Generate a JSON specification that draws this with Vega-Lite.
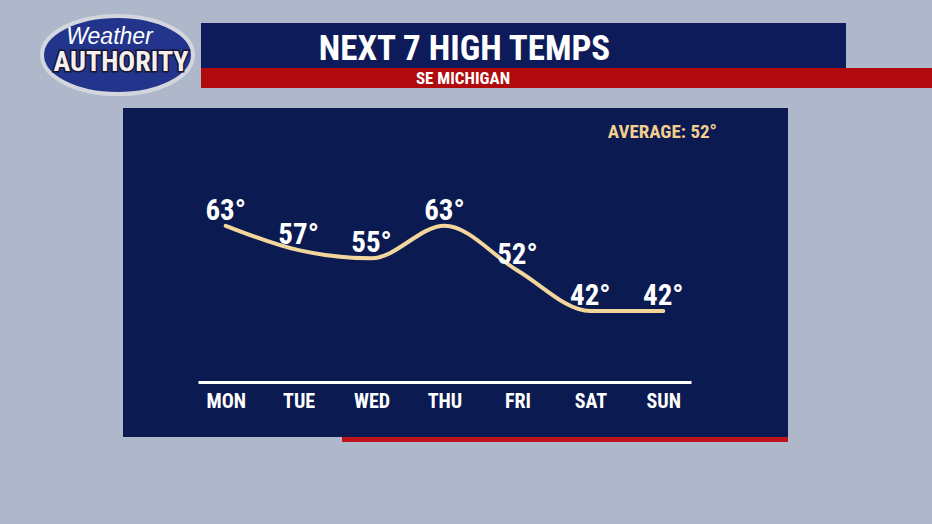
{
  "$schema": "https://vega.github.io/schema/vega-lite/v6.json",
  "background": "#aeb8ca",
  "padding": {"left": 34, "top": 7, "right": 0, "bottom": 82},
  "config": {
    "view": {"stroke": null},
    "font": "Roboto Condensed, Liberation Sans Narrow, DejaVu Sans Condensed, sans-serif"
  },
  "spacing": 5,
  "vconcat": [
    {
      "spacing": -7,
      "hconcat": [
        {
          "width": 155,
          "height": 78,
          "data": {"values": [{}]},
          "layer": [
            {
              "mark": {"type": "point", "shape": "M-1,0A1,0.517,0,1,1,1,0A1,0.517,0,1,1,-1,0Z", "size": 22801, "filled": true, "fill": "#22348c", "stroke": "#d4d6de", "strokeWidth": 4, "opacity": 1},
              "encoding": {}
            },
            {
              "mark": {"type": "text", "text": "Weather", "font": "Liberation Sans, Arial, sans-serif", "fontStyle": "italic", "fontSize": 23, "color": "white", "dx": -8, "dy": -11, "baseline": "alphabetic"},
              "encoding": {}
            },
            {
              "mark": {"type": "text", "text": "AUTHORITY", "fontWeight": "bold", "fontSize": 28, "fill": "#1a1430", "stroke": "#1a1430", "strokeWidth": 3, "dx": 3.5, "dy": 16, "baseline": "alphabetic"},
              "encoding": {}
            },
            {
              "mark": {"type": "text", "text": "AUTHORITY", "fontWeight": "bold", "fontSize": 28, "fill": "#f4f0f0", "dx": 3.5, "dy": 16, "baseline": "alphabetic"},
              "encoding": {}
            }
          ]
        },
        {
          "spacing": 0,
          "vconcat": [
            {
              "width": 10,
              "height": 7,
              "data": {"values": [{}]},
              "mark": {"type": "text", "text": "", "fontSize": 0},
              "encoding": {}
            },
            {
              "width": 645,
              "height": 45,
              "data": {"values": [{}]},
              "view": {"fill": "#0e1b5a"},
              "mark": {"type": "text", "text": "NEXT 7 HIGH TEMPS", "fontSize": 35, "fontWeight": "bold", "color": "white", "dx": -59, "dy": 14.8, "baseline": "alphabetic"},
              "encoding": {}
            },
            {
              "width": 736,
              "height": 20,
              "data": {"values": [{}]},
              "view": {"fill": "#b00a0e"},
              "mark": {"type": "text", "text": "SE MICHIGAN", "fontSize": 17, "fontWeight": "bold", "color": "white", "dx": -106, "dy": 6.3, "baseline": "alphabetic"},
              "encoding": {}
            }
          ]
        }
      ]
    },
    {
      "spacing": 0,
      "vconcat": [
        {
          "spacing": 0,
          "hconcat": [
            {
              "width": 83,
              "height": 10,
              "data": {"values": [{}]},
              "mark": {"type": "text", "text": "", "fontSize": 0},
              "encoding": {}
            },
            {
              "width": 665,
              "height": 329,
              "view": {"fill": "#0b1a51"},
              "data": {"values": [
                {"day": "MON", "temp": 63, "label": "63°"},
                {"day": "TUE", "temp": 57, "label": "57°"},
                {"day": "WED", "temp": 55, "label": "55°"},
                {"day": "THU", "temp": 63, "label": "63°"},
                {"day": "FRI", "temp": 52, "label": "52°"},
                {"day": "SAT", "temp": 42, "label": "42°"},
                {"day": "SUN", "temp": 42, "label": "42°"}
              ]},
              "title": {"text": "AVERAGE: 52°", "anchor": "end", "frame": "group", "orient": "top", "offset": -49, "dx": -71, "color": "#f2cf8e", "fontSize": 19, "fontWeight": "bold", "baseline": "alphabetic"},
              "encoding": {
                "x": {
                  "field": "day", "type": "ordinal", "sort": null,
                  "scale": {"type": "point", "range": [75, 568], "padding": 0.38},
                  "axis": {"title": null, "domainColor": "white", "domainWidth": 3, "ticks": false, "tickSize": 0, "labelColor": "white", "labelFontSize": 20, "labelFontWeight": "bold", "labelPadding": 9, "offset": -55, "grid": false, "labelAngle": 0}
                },
                "y": {
                  "field": "temp", "type": "quantitative",
                  "scale": {"domain": [11, 92], "nice": false, "zero": false},
                  "axis": null
                }
              },
              "layer": [
                {"mark": {"type": "line", "interpolate": "monotone", "color": "#f3d69c", "strokeWidth": 4, "strokeCap": "round"}},
                {"mark": {"type": "text", "color": "white", "fontSize": 29, "fontWeight": "bold", "dy": -6, "baseline": "alphabetic"}, "encoding": {"text": {"field": "label"}}}
              ]
            }
          ]
        },
        {
          "spacing": 0,
          "hconcat": [
            {
              "width": 302,
              "height": 5,
              "data": {"values": [{}]},
              "mark": {"type": "text", "text": "", "fontSize": 0},
              "encoding": {}
            },
            {
              "width": 446,
              "height": 5,
              "data": {"values": [{}]},
              "view": {"fill": "#c0141c"},
              "mark": {"type": "text", "text": "", "fontSize": 0},
              "encoding": {}
            }
          ]
        }
      ]
    }
  ]
}
